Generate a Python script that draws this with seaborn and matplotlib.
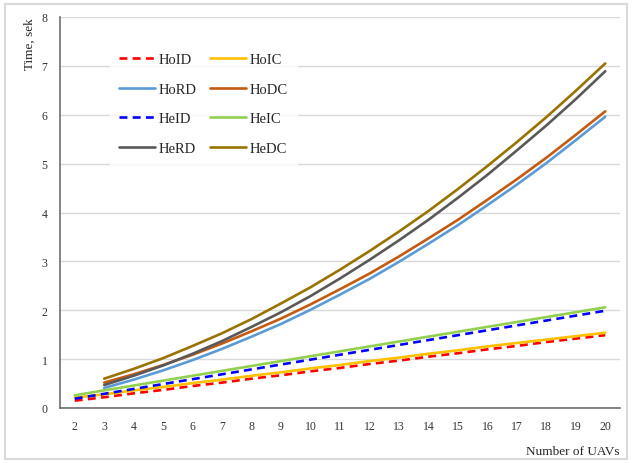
import matplotlib
matplotlib.use("Agg")
import matplotlib.pyplot as plt
import seaborn as sns
import pandas as pd
from matplotlib.patches import Rectangle

sns.set_theme(style="white")
plt.rcParams['font.family'] = ['Liberation Serif', 'DejaVu Serif']

# Data
uavs = list(range(2, 21))
uavs_from3 = list(range(3, 21))

ho_id = [0.15, 0.22, 0.30, 0.37, 0.45, 0.52, 0.60, 0.67, 0.75, 0.82, 0.90, 0.97,
         1.05, 1.12, 1.20, 1.27, 1.35, 1.42, 1.49]
ho_ic = [0.21, 0.28, 0.36, 0.43, 0.51, 0.58, 0.66, 0.73, 0.81, 0.88, 0.96, 1.03,
         1.11, 1.18, 1.26, 1.33, 1.40, 1.47, 1.54]
he_id = [0.19, 0.29, 0.39, 0.49, 0.59, 0.69, 0.79, 0.89, 0.99, 1.09, 1.19, 1.29,
         1.39, 1.49, 1.59, 1.69, 1.79, 1.89, 1.99]
he_ic = [0.26, 0.36, 0.46, 0.56, 0.66, 0.76, 0.86, 0.96, 1.06, 1.16, 1.26, 1.36,
         1.46, 1.56, 1.66, 1.76, 1.86, 1.96, 2.06]

ho_rd = [0.41, 0.58, 0.77, 0.98, 1.21, 1.46, 1.72, 2.01, 2.32, 2.64, 2.99, 3.36,
         3.74, 4.15, 4.57, 5.01, 5.48, 5.96]
ho_dc = [0.52, 0.69, 0.88, 1.09, 1.32, 1.57, 1.83, 2.12, 2.43, 2.75, 3.10, 3.47,
         3.85, 4.26, 4.68, 5.12, 5.59, 6.07]
he_rd = [0.47, 0.66, 0.87, 1.11, 1.37, 1.66, 1.96, 2.29, 2.65, 3.03, 3.43, 3.85,
         4.30, 4.77, 5.27, 5.78, 6.32, 6.89]
he_dc = [0.60, 0.80, 1.02, 1.27, 1.53, 1.82, 2.14, 2.47, 2.83, 3.21, 3.61, 4.03,
         4.48, 4.95, 5.44, 5.95, 6.49, 7.05]

series = {
    "HoID": (uavs, ho_id), "HoIC": (uavs, ho_ic),
    "HoRD": (uavs_from3, ho_rd), "HoDC": (uavs_from3, ho_dc),
    "HeID": (uavs, he_id), "HeIC": (uavs, he_ic),
    "HeRD": (uavs_from3, he_rd), "HeDC": (uavs_from3, he_dc),
}
colors = {"HoID": "#FF0000", "HoIC": "#FFC000", "HoRD": "#5B9BD5", "HoDC": "#C55A11",
          "HeID": "#0000FF", "HeIC": "#92D050", "HeRD": "#595959", "HeDC": "#997300"}
dashes = {k: ((3, 2) if k in ("HoID", "HeID") else "") for k in series}

rows = []
for name, (xs, ys) in series.items():
    for x, y in zip(xs, ys):
        rows.append({"n": x, "t": y, "series": name})
df = pd.DataFrame(rows)

fig = plt.figure(figsize=(6.32, 4.64), dpi=100)
ax = fig.add_axes([60 / 632, 1 - 409 / 464, 560 / 632, 391 / 464])

sns.lineplot(data=df, x="n", y="t", hue="series", style="series",
             hue_order=list(series), style_order=list(series),
             palette=colors, dashes=dashes, linewidth=1.9, ax=ax)

ax.set_xlim(1.5, 20.5)
ax.set_ylim(0, 8)
ax.set_xticks(uavs)
ax.set_yticks(range(0, 9))
ax.tick_params(axis="both", length=0, labelsize=8.5, pad=9, colors="#333333")
ax.yaxis.grid(True, color="#d9d9d9", linewidth=1)
ax.xaxis.grid(False)
for s in ("top", "right"):
    ax.spines[s].set_visible(False)
for s in ("left", "bottom"):
    ax.spines[s].set_color("#6e6e6e")
    ax.spines[s].set_linewidth(1.2)

ax.set_ylabel("Time, sek", loc="top", fontsize=9.5, labelpad=4)
ax.set_xlabel("Number of UAVs", loc="right", fontsize=9.5, labelpad=9)

# legend in row order (2 columns)
handles, labels = ax.get_legend_handles_labels()
hmap = dict(zip(labels, handles))
order = ["HoID", "HoRD", "HeID", "HeRD", "HoIC", "HoDC", "HeIC", "HeDC"]
leg = ax.legend([hmap[k] for k in order], order, ncol=2, loc="upper left",
                bbox_to_anchor=(0.089, 0.93), borderaxespad=0, frameon=True,
                fontsize=10.5, handlelength=2.5, handletextpad=0.25,
                columnspacing=0.9, labelspacing=1.12, borderpad=0.6,
                fancybox=False)
leg.get_frame().set_edgecolor("white")
leg.get_frame().set_facecolor("white")

fig.patches.append(Rectangle((5 / 632, 4 / 464), 622 / 632, 455 / 464,
                             transform=fig.transFigure, fill=False,
                             edgecolor="#d9d9d9", linewidth=1.5))

fig.savefig("out.png", dpi=100)
